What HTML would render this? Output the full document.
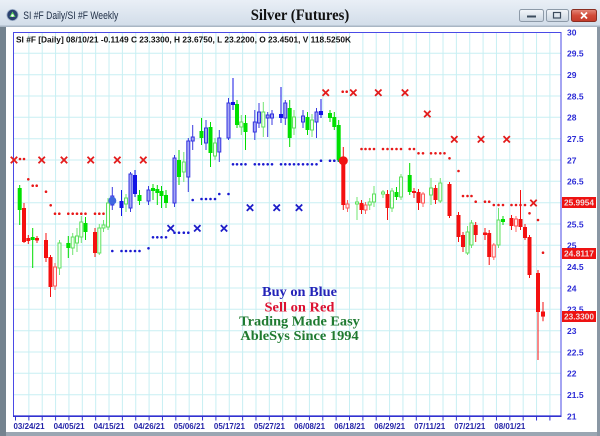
<!DOCTYPE html>
<html><head><meta charset="utf-8"><style>
html,body{margin:0;padding:0;width:600px;height:436px;overflow:hidden;background:#fff}
svg{display:block}
.G{fill:#00e000}.R{fill:#f41010}.B{fill:#1414e6}
.g{fill:#f2fff2;stroke:#5fe05f;stroke-width:1}
.r{fill:#fff0f0;stroke:#ff5a5a;stroke-width:1}
.b{fill:#a6a6f2;stroke:#3232e0;stroke-width:1}
.ax{font-family:"Liberation Sans",sans-serif;font-weight:bold;font-size:8.5px;fill:#2b2bd6}
.dt{font-family:"Liberation Sans",sans-serif;font-weight:bold;font-size:8px;fill:#2424a8}
.mid{font-family:"Liberation Serif",serif;font-weight:bold;font-size:14px}
</style></head><body>
<svg width="600" height="436" viewBox="0 0 600 436" xmlns="http://www.w3.org/2000/svg">
<defs>
<linearGradient id="tb" x1="0" y1="0" x2="0" y2="1"><stop offset="0" stop-color="#e9eff6"/><stop offset="1" stop-color="#d2dde9"/></linearGradient>
<linearGradient id="bt" x1="0" y1="0" x2="0" y2="1"><stop offset="0" stop-color="#f4f7fa"/><stop offset="1" stop-color="#c9d4e0"/></linearGradient>
<linearGradient id="bc" x1="0" y1="0" x2="0" y2="1"><stop offset="0" stop-color="#e48a7c"/><stop offset="0.5" stop-color="#d24a38"/><stop offset="1" stop-color="#c23a2a"/></linearGradient>
</defs>
<!-- frame -->
<rect x="0" y="0" width="600" height="436" fill="#b9c6d3"/>
<rect x="0" y="0" width="600" height="26" fill="url(#tb)"/>
<rect x="0" y="25.5" width="600" height="1.5" fill="#a9b6c4"/>
<rect x="0" y="27" width="6" height="409" fill="#74838f"/>
<rect x="597" y="27" width="3" height="409" fill="#8a97a4"/>
<rect x="6" y="27" width="591" height="405" fill="#ffffff"/>
<rect x="6" y="432" width="591" height="4" fill="#9aa6b2"/>
<!-- title bar -->
<circle cx="12.5" cy="15" r="5.6" fill="#2c4270" stroke="#9fb0c8" stroke-width="0.8"/>
<path d="M12.5 11.5 L15.5 17 L9.5 17 Z" fill="#5ad05a"/>
<circle cx="12.5" cy="15.5" r="1.3" fill="#fff"/>
<text x="23.3" y="19" font-family="'Liberation Sans',sans-serif" font-size="11" fill="#1c2c44" textLength="95" lengthAdjust="spacingAndGlyphs">SI #F Daily/SI #F Weekly</text>
<text x="250.7" y="20" font-family="'Liberation Serif',serif" font-weight="bold" font-size="15.5" fill="#111" textLength="98.6" lengthAdjust="spacingAndGlyphs">Silver (Futures)</text>
<rect x="519.5" y="9.5" width="24" height="12" rx="2" fill="url(#bt)" stroke="#8d9aa8"/>
<rect x="527" y="15.5" width="9" height="2" fill="#3c4c5e"/>
<rect x="546.5" y="9.5" width="22" height="12" rx="2" fill="url(#bt)" stroke="#8d9aa8"/>
<rect x="553.5" y="12.5" width="7" height="5.5" fill="none" stroke="#3c4c5e" stroke-width="1.2"/>
<rect x="571.5" y="9.5" width="25" height="12" rx="2" fill="url(#bc)" stroke="#8a2e22"/>
<path d="M581 12.5 L587 18.5 M587 12.5 L581 18.5" stroke="#fff" stroke-width="1.8"/>
<!-- grid -->
<g stroke="#c8eff3" stroke-width="1">
<path d="M13 394.7H561M13 373.3H561M13 352H561M13 330.7H561M13 309.3H561M13 288H561M13 266.7H561M13 245.3H561M13 224H561M13 202.7H561M13 181.3H561M13 160H561M13 138.7H561M13 117.3H561M13 96H561M13 74.7H561M13 53.3H561"/>
<path d="M28.86 32V416M42.22 32V416M55.58 32V416M68.94 32V416M82.3 32V416M95.66 32V416M109.02 32V416M122.38 32V416M135.74 32V416M149.1 32V416M162.46 32V416M175.82 32V416M189.18 32V416M202.54 32V416M215.9 32V416M229.26 32V416M242.62 32V416M255.98 32V416M269.34 32V416M282.7 32V416M296.06 32V416M309.42 32V416M322.78 32V416M336.14 32V416M349.5 32V416M362.86 32V416M376.22 32V416M389.58 32V416M402.94 32V416M416.3 32V416M429.66 32V416M443.02 32V416M456.38 32V416M469.74 32V416M483.1 32V416M496.46 32V416M509.82 32V416M523.18 32V416M536.54 32V416M549.9 32V416"/>
</g>
<!-- plot border -->
<rect x="13.5" y="32.5" width="547.5" height="383.5" fill="none" stroke="#4a4ae6" stroke-width="1"/>
<path d="M13 416.2H561.5" stroke="#3030d0" stroke-width="1.6"/>
<path d="M15.5 416V420.5M28.86 416V420.5M42.22 416V420.5M55.58 416V420.5M68.94 416V420.5M82.3 416V420.5M95.66 416V420.5M109.02 416V420.5M122.38 416V420.5M135.74 416V420.5M149.1 416V420.5M162.46 416V420.5M175.82 416V420.5M189.18 416V420.5M202.54 416V420.5M215.9 416V420.5M229.26 416V420.5M242.62 416V420.5M255.98 416V420.5M269.34 416V420.5M282.7 416V420.5M296.06 416V420.5M309.42 416V420.5M322.78 416V420.5M336.14 416V420.5M349.5 416V420.5M362.86 416V420.5M376.22 416V420.5M389.58 416V420.5M402.94 416V420.5M416.3 416V420.5M429.66 416V420.5M443.02 416V420.5M456.38 416V420.5M469.74 416V420.5M483.1 416V420.5M496.46 416V420.5M509.82 416V420.5M523.18 416V420.5M536.54 416V420.5M549.9 416V420.5" stroke="#3030d0" stroke-width="1"/>
<!-- info text -->
<text x="16" y="42.5" font-family="'Liberation Sans',sans-serif" font-weight="bold" font-size="8" fill="#111" textLength="335" lengthAdjust="spacingAndGlyphs">SI #F [Daily] 08/10/21  -0.1149 C 23.3300, H 23.6750, L 23.2200, O 23.4501, V 118.5250K</text>
<!-- middle text -->
<text class="mid" x="299.5" y="296" text-anchor="middle" fill="#2323b8" textLength="75" lengthAdjust="spacingAndGlyphs">Buy on Blue</text>
<text class="mid" x="299.5" y="311.5" text-anchor="middle" fill="#dc1232" textLength="70" lengthAdjust="spacingAndGlyphs">Sell on Red</text>
<text class="mid" x="299.5" y="325.5" text-anchor="middle" fill="#1f7a30" textLength="120.7" lengthAdjust="spacingAndGlyphs">Trading Made Easy</text>
<text class="mid" x="299.5" y="340" text-anchor="middle" fill="#1f7a30" textLength="118.3" lengthAdjust="spacingAndGlyphs">AbleSys Since 1994</text>
<!-- dots red -->
<g fill="#e81818">
<circle cx="20" cy="159" r="1.3"/><circle cx="24" cy="159" r="1.3"/><circle cx="28.3" cy="179.3" r="1.3"/><circle cx="32.7" cy="185.7" r="1.3"/><circle cx="36.7" cy="185.7" r="1.3"/><circle cx="46" cy="191.7" r="1.3"/><circle cx="50.7" cy="205.3" r="1.3"/><circle cx="55" cy="213.7" r="1.3"/><circle cx="59.3" cy="213.7" r="1.3"/><circle cx="68.3" cy="213.7" r="1.3"/><circle cx="72.7" cy="213.7" r="1.3"/><circle cx="77" cy="213.7" r="1.3"/><circle cx="81.3" cy="213.7" r="1.3"/><circle cx="85.5" cy="213.7" r="1.3"/><circle cx="95" cy="213.7" r="1.3"/><circle cx="99.3" cy="213.7" r="1.3"/><circle cx="103.5" cy="213.7" r="1.3"/><circle cx="108" cy="213.7" r="1.3"/>
<circle cx="342.7" cy="91.7" r="1.3"/><circle cx="346.7" cy="91.7" r="1.3"/>
<circle cx="361.5" cy="149" r="1.3"/><circle cx="365.5" cy="149" r="1.3"/><circle cx="369.7" cy="149" r="1.3"/><circle cx="374" cy="149" r="1.3"/><circle cx="383" cy="149" r="1.3"/><circle cx="387.5" cy="149" r="1.3"/><circle cx="392" cy="149" r="1.3"/><circle cx="396.5" cy="149" r="1.3"/><circle cx="401" cy="149" r="1.3"/><circle cx="409.7" cy="149" r="1.3"/><circle cx="414" cy="149" r="1.3"/>
<circle cx="418.5" cy="153.3" r="1.3"/><circle cx="423" cy="153.3" r="1.3"/><circle cx="431" cy="153.3" r="1.3"/><circle cx="435.5" cy="153.3" r="1.3"/><circle cx="440.3" cy="153.3" r="1.3"/><circle cx="444.5" cy="153.3" r="1.3"/>
<circle cx="449.5" cy="158.3" r="1.3"/><circle cx="458.5" cy="171" r="1.3"/>
<circle cx="463" cy="196" r="1.3"/><circle cx="467.5" cy="196" r="1.3"/><circle cx="471.5" cy="196" r="1.3"/>
<circle cx="475.7" cy="201.7" r="1.3"/><circle cx="485" cy="201.7" r="1.3"/><circle cx="489.2" cy="201.7" r="1.3"/>
<circle cx="493.8" cy="205" r="1.3"/><circle cx="498.5" cy="205" r="1.3"/><circle cx="503" cy="205" r="1.3"/><circle cx="511.5" cy="205" r="1.3"/><circle cx="516" cy="205" r="1.3"/><circle cx="520.5" cy="205" r="1.3"/><circle cx="525" cy="205" r="1.3"/>
<circle cx="529.5" cy="213.3" r="1.3"/><circle cx="538" cy="220" r="1.3"/><circle cx="543" cy="252.7" r="1.3"/>
</g>
<!-- dots blue -->
<g fill="#1a1ad0">
<circle cx="112.3" cy="251" r="1.3"/><circle cx="121.5" cy="251" r="1.3"/><circle cx="126" cy="251" r="1.3"/><circle cx="130.5" cy="251" r="1.3"/><circle cx="135" cy="251" r="1.3"/><circle cx="139.5" cy="251" r="1.3"/>
<circle cx="148.5" cy="248.3" r="1.3"/>
<circle cx="153" cy="237.3" r="1.3"/><circle cx="157.3" cy="237.3" r="1.3"/><circle cx="161.5" cy="237.3" r="1.3"/><circle cx="166" cy="237.3" r="1.3"/>
<circle cx="174.5" cy="232.7" r="1.3"/><circle cx="179" cy="232.7" r="1.3"/><circle cx="183.8" cy="232.7" r="1.3"/><circle cx="188.3" cy="232.7" r="1.3"/>
<circle cx="192.7" cy="200" r="1.3"/>
<circle cx="201.5" cy="199" r="1.3"/><circle cx="206" cy="199" r="1.3"/><circle cx="210.5" cy="199" r="1.3"/><circle cx="215" cy="199" r="1.3"/>
<circle cx="219.3" cy="194" r="1.3"/><circle cx="228.5" cy="194" r="1.3"/>
<circle cx="233" cy="164.3" r="1.3"/><circle cx="237" cy="164.3" r="1.3"/><circle cx="241.3" cy="164.3" r="1.3"/><circle cx="245.5" cy="164.3" r="1.3"/>
<circle cx="254.8" cy="164.3" r="1.3"/><circle cx="259" cy="164.3" r="1.3"/><circle cx="263.3" cy="164.3" r="1.3"/><circle cx="267.7" cy="164.3" r="1.3"/><circle cx="272" cy="164.3" r="1.3"/>
<circle cx="281" cy="164.3" r="1.3"/><circle cx="285.3" cy="164.3" r="1.3"/><circle cx="289.7" cy="164.3" r="1.3"/><circle cx="294" cy="164.3" r="1.3"/><circle cx="298.5" cy="164.3" r="1.3"/>
<circle cx="303" cy="164.3" r="1.3"/><circle cx="307.5" cy="164.3" r="1.3"/><circle cx="312" cy="164.3" r="1.3"/><circle cx="316.5" cy="164.3" r="1.3"/>
<circle cx="321" cy="160.7" r="1.3"/><circle cx="330" cy="160.7" r="1.3"/><circle cx="334.3" cy="160.7" r="1.3"/><circle cx="338.7" cy="160.7" r="1.3"/>
</g>
<!-- weekly X markers -->
<path d="M10.8 156.8l6.4 6.4m0-6.4l-6.4 6.4M38.5 156.8l6.4 6.4m0-6.4l-6.4 6.4M60.8 156.8l6.4 6.4m0-6.4l-6.4 6.4M87.5 156.8l6.4 6.4m0-6.4l-6.4 6.4M114.1 156.8l6.4 6.4m0-6.4l-6.4 6.4M140.1 156.8l6.4 6.4m0-6.4l-6.4 6.4M322.5 89.5l6.4 6.4m0-6.4l-6.4 6.4M350.1 89.5l6.4 6.4m0-6.4l-6.4 6.4M375.1 89.5l6.4 6.4m0-6.4l-6.4 6.4M401.8 89.5l6.4 6.4m0-6.4l-6.4 6.4M424.1 110.8l6.4 6.4m0-6.4l-6.4 6.4M451.1 136.1l6.4 6.4m0-6.4l-6.4 6.4M477.8 136.1l6.4 6.4m0-6.4l-6.4 6.4M503.5 136.1l6.4 6.4m0-6.4l-6.4 6.4M530.3 199.8l6.4 6.4m0-6.4l-6.4 6.4" stroke="#e41c1c" stroke-width="1.8" fill="none"/>
<path d="M167.5 225.1l6.4 6.4m0-6.4l-6.4 6.4M194.1 225.1l6.4 6.4m0-6.4l-6.4 6.4M220.8 225.1l6.4 6.4m0-6.4l-6.4 6.4M246.8 204.5l6.4 6.4m0-6.4l-6.4 6.4M273.5 204.5l6.4 6.4m0-6.4l-6.4 6.4M295.8 204.5l6.4 6.4m0-6.4l-6.4 6.4" stroke="#1e1ec8" stroke-width="1.8" fill="none"/>
<!-- wicks -->
<path stroke="#00dc00" stroke-width="1" fill="none" d="M19.7 185V225M32.7 228V268M68.3 236V258M85.5 217V240M139.5 190V205M153 184V200M157.3 185V205M161.5 186V208M166 190V208M179 150V185M201.5 118V145M210.5 122V167M237 100V128M245.5 115V150M289.7 100V147M307.5 112V135M330 110V122M334.3 112V130M338.7 120V162M396.5 187V200M409.7 163V195M503 216V225"/>
<path stroke="#72e472" stroke-width="1" fill="none" d="M59.5 240V275M72.7 233V255M77 228V252M81.3 216V243M99.3 224V255M103.5 220V232M108 198V230M126 194V212M183.8 152V182M215 138V160M241.3 115V135M263.3 102V137M294 110V135M312 114V137M357 197V220M369.7 198V210M374 186V207M383 190V198M392 188V212M401 174V200M431 178V205M440.3 178V203M467.5 226V255M471.5 220V248M498.5 208V248"/>
<path stroke="#f41010" stroke-width="1" fill="none" d="M24 203V243M28.3 235V244M37 236V243M46 233V262M50.5 255V297M95 228V257M343.3 147V210M361.5 200V214M387.5 190V220M414 188V198M418.5 189V210M435.5 185V204M449.5 182V218M458.5 212V242M463 232V252M475.7 222V242M485 228V240M489.2 230V265M511.5 215V230M520.5 190V230M525 224V240M529.5 235V278M538 270V360M543 302V321.3"/>
<path stroke="#ff6666" stroke-width="1" fill="none" d="M55 263V290M347.5 200V212M365.5 202V214M423 192V207M493.8 243V260M516 216V232"/>
<path stroke="#1414e6" stroke-width="1" fill="none" d="M121.5 190V216M135 170V197M233 78V110M281 87V123M321 99V118"/>
<path stroke="#3a3ae0" stroke-width="1" fill="none" d="M112.3 187V210M130.5 172V212M148.5 186V205M174.5 155V207M188.3 138V192M192.7 125V150M206 120V150M219.3 130V162M228.5 98V140M254.8 110V140M259 103V128M267.7 112V137M272 110V125M285.3 100V125M303 110V128M316.5 108V138"/>
<!-- bodies -->
<g class="G">
<rect x="17.7" y="188" width="4" height="22"/><rect x="30.7" y="237" width="4" height="3"/><rect x="66.3" y="243" width="4" height="5"/><rect x="83.5" y="223" width="4" height="9"/><rect x="137.5" y="195" width="4" height="6"/><rect x="151" y="188" width="4" height="3"/><rect x="155.3" y="189" width="4" height="4"/><rect x="159.5" y="191" width="4" height="5"/><rect x="164" y="195" width="4" height="8"/><rect x="177" y="160" width="4" height="17"/><rect x="199.5" y="131" width="4" height="7"/><rect x="208.5" y="127" width="4" height="26"/><rect x="235" y="104" width="4" height="21"/><rect x="243.5" y="123" width="4" height="9"/><rect x="287.7" y="108" width="4" height="30"/><rect x="305.5" y="117" width="4" height="13"/><rect x="328" y="113" width="4" height="5"/><rect x="332.3" y="117" width="4" height="10"/><rect x="336.7" y="125" width="4" height="35"/><rect x="394.5" y="192" width="4" height="5"/><rect x="407.7" y="175" width="4" height="17"/><rect x="501" y="219" width="4" height="3"/>
</g>
<g class="g">
<rect x="58" y="243" width="3" height="25"/><rect x="71.2" y="237" width="3" height="11"/><rect x="75.5" y="236" width="3" height="7"/><rect x="79.8" y="222" width="3" height="15"/><rect x="97.8" y="228" width="3" height="25"/><rect x="102" y="225" width="3" height="3"/><rect x="106.5" y="203" width="3" height="24"/><rect x="124.5" y="198" width="3" height="6"/><rect x="182.3" y="162" width="3" height="10"/><rect x="213.5" y="143" width="3" height="13"/><rect x="239.8" y="122" width="3" height="5"/><rect x="261.8" y="112" width="3" height="15"/><rect x="292.5" y="117" width="3" height="11"/><rect x="310.5" y="120" width="3" height="10"/><rect x="355.5" y="202" width="3" height="2"/><rect x="368.2" y="202" width="3" height="3"/><rect x="372.5" y="194" width="3" height="8"/><rect x="381.5" y="192" width="3" height="2"/><rect x="390.5" y="191" width="3" height="17"/><rect x="399.5" y="177" width="3" height="20"/><rect x="429.5" y="188" width="3" height="7"/><rect x="438.8" y="183" width="3" height="18"/><rect x="466" y="232" width="3" height="21"/><rect x="470" y="223" width="3" height="22"/><rect x="497" y="220" width="3" height="25"/>
</g>
<g class="R">
<rect x="22" y="208" width="4" height="34"/><rect x="26.3" y="238" width="4" height="3"/><rect x="35" y="238" width="4" height="2.5"/><rect x="44" y="240" width="4" height="18"/><rect x="48.5" y="257" width="4" height="30"/><rect x="93" y="232" width="4" height="21"/><rect x="341.3" y="160" width="4" height="45"/><rect x="359.5" y="203" width="4" height="7"/><rect x="385.5" y="194" width="4" height="14"/><rect x="412" y="191" width="4" height="2"/><rect x="416.5" y="192" width="4" height="11"/><rect x="433.5" y="188" width="4" height="12"/><rect x="447.5" y="184" width="4" height="32"/><rect x="456.5" y="215" width="4" height="22"/><rect x="461" y="235" width="4" height="12"/><rect x="473.7" y="225" width="4" height="10"/><rect x="483" y="232.5" width="4" height="2.5"/><rect x="487.2" y="233" width="4" height="24"/><rect x="509.5" y="218" width="4" height="8"/><rect x="518.5" y="219" width="4" height="8"/><rect x="523" y="227" width="4" height="11"/><rect x="527.5" y="237" width="4" height="38"/><rect x="536" y="273" width="4" height="39"/><rect x="541" y="311.5" width="4" height="5.1"/>
</g>
<g class="r">
<rect x="53.5" y="267" width="3" height="19"/><rect x="346" y="204" width="3" height="4"/><rect x="364" y="205" width="3" height="5"/><rect x="421.5" y="194" width="3" height="9"/><rect x="492.3" y="245" width="3" height="12"/><rect x="514.5" y="219" width="3" height="7"/>
</g>
<g class="B">
<rect x="119.5" y="201" width="4" height="7"/><rect x="133" y="175" width="4" height="19"/><rect x="231" y="102" width="4" height="3"/><rect x="279" y="114" width="4" height="4"/><rect x="319" y="111" width="4" height="4"/>
</g>
<g class="b">
<rect x="110.8" y="196" width="3" height="9"/><rect x="129" y="174" width="3" height="34"/><rect x="147" y="190" width="3" height="11"/><rect x="173" y="158" width="3" height="45"/><rect x="186.8" y="141" width="3" height="36"/><rect x="191.2" y="137" width="3" height="4"/><rect x="204.5" y="128" width="3" height="15"/><rect x="217.8" y="138" width="3" height="14"/><rect x="227" y="103" width="3" height="35"/><rect x="253.3" y="122" width="3" height="10"/><rect x="257.5" y="112" width="3" height="11"/><rect x="266.2" y="115" width="3" height="3"/><rect x="270.5" y="114" width="3" height="4"/><rect x="283.8" y="103" width="3" height="15"/><rect x="301.5" y="116" width="3" height="6"/><rect x="315" y="112" width="3" height="10"/>
</g>
<!-- signal circles -->
<circle cx="112.3" cy="200.7" r="4" fill="#3f66e0"/>
<circle cx="343.3" cy="160.7" r="4.5" fill="#f01414"/>
<!-- right axis labels -->
<g class="ax">
<text x="567" y="35.3">30</text><text x="567" y="56.6">29.5</text><text x="567" y="78">29</text><text x="567" y="99.3">28.5</text><text x="567" y="120.6">28</text><text x="567" y="142">27.5</text><text x="567" y="163.3">27</text><text x="567" y="184.6">26.5</text><text x="567" y="206">26</text><text x="567" y="227.3">25.5</text><text x="567" y="248.6">25</text><text x="567" y="270">24.5</text><text x="567" y="291.3">24</text><text x="567" y="312.6">23.5</text><text x="567" y="334">23</text><text x="567" y="355.3">22.5</text><text x="567" y="376.6">22</text><text x="567" y="398">21.5</text><text x="567" y="419.3">21</text>
</g>
<g font-family="'Liberation Sans',sans-serif" font-weight="bold" font-size="8" fill="#f2dede">
<rect x="562" y="197" width="34" height="11" fill="#ee1212"/>
<text x="564" y="205.5" textLength="30" lengthAdjust="spacingAndGlyphs">25.9954</text>
<rect x="562" y="248" width="34" height="11" fill="#ee1212"/>
<text x="564" y="256.5" textLength="30" lengthAdjust="spacingAndGlyphs">24.8117</text>
<rect x="562" y="311" width="34" height="11" fill="#ee1212"/>
<text x="564" y="319.5" textLength="30" lengthAdjust="spacingAndGlyphs">23.3300</text>
</g>
<!-- date labels -->
<g class="dt">
<text x="13.5" y="429" textLength="31" lengthAdjust="spacingAndGlyphs">03/24/21</text>
<text x="53.6" y="429" textLength="31" lengthAdjust="spacingAndGlyphs">04/05/21</text>
<text x="93.6" y="429" textLength="31" lengthAdjust="spacingAndGlyphs">04/15/21</text>
<text x="133.7" y="429" textLength="31" lengthAdjust="spacingAndGlyphs">04/26/21</text>
<text x="173.8" y="429" textLength="31" lengthAdjust="spacingAndGlyphs">05/06/21</text>
<text x="213.9" y="429" textLength="31" lengthAdjust="spacingAndGlyphs">05/17/21</text>
<text x="253.9" y="429" textLength="31" lengthAdjust="spacingAndGlyphs">05/27/21</text>
<text x="294" y="429" textLength="31" lengthAdjust="spacingAndGlyphs">06/08/21</text>
<text x="334.1" y="429" textLength="31" lengthAdjust="spacingAndGlyphs">06/18/21</text>
<text x="374.1" y="429" textLength="31" lengthAdjust="spacingAndGlyphs">06/29/21</text>
<text x="414.2" y="429" textLength="31" lengthAdjust="spacingAndGlyphs">07/11/21</text>
<text x="454.3" y="429" textLength="31" lengthAdjust="spacingAndGlyphs">07/21/21</text>
<text x="494.3" y="429" textLength="31" lengthAdjust="spacingAndGlyphs">08/01/21</text>
</g>
</svg>
</body></html>
